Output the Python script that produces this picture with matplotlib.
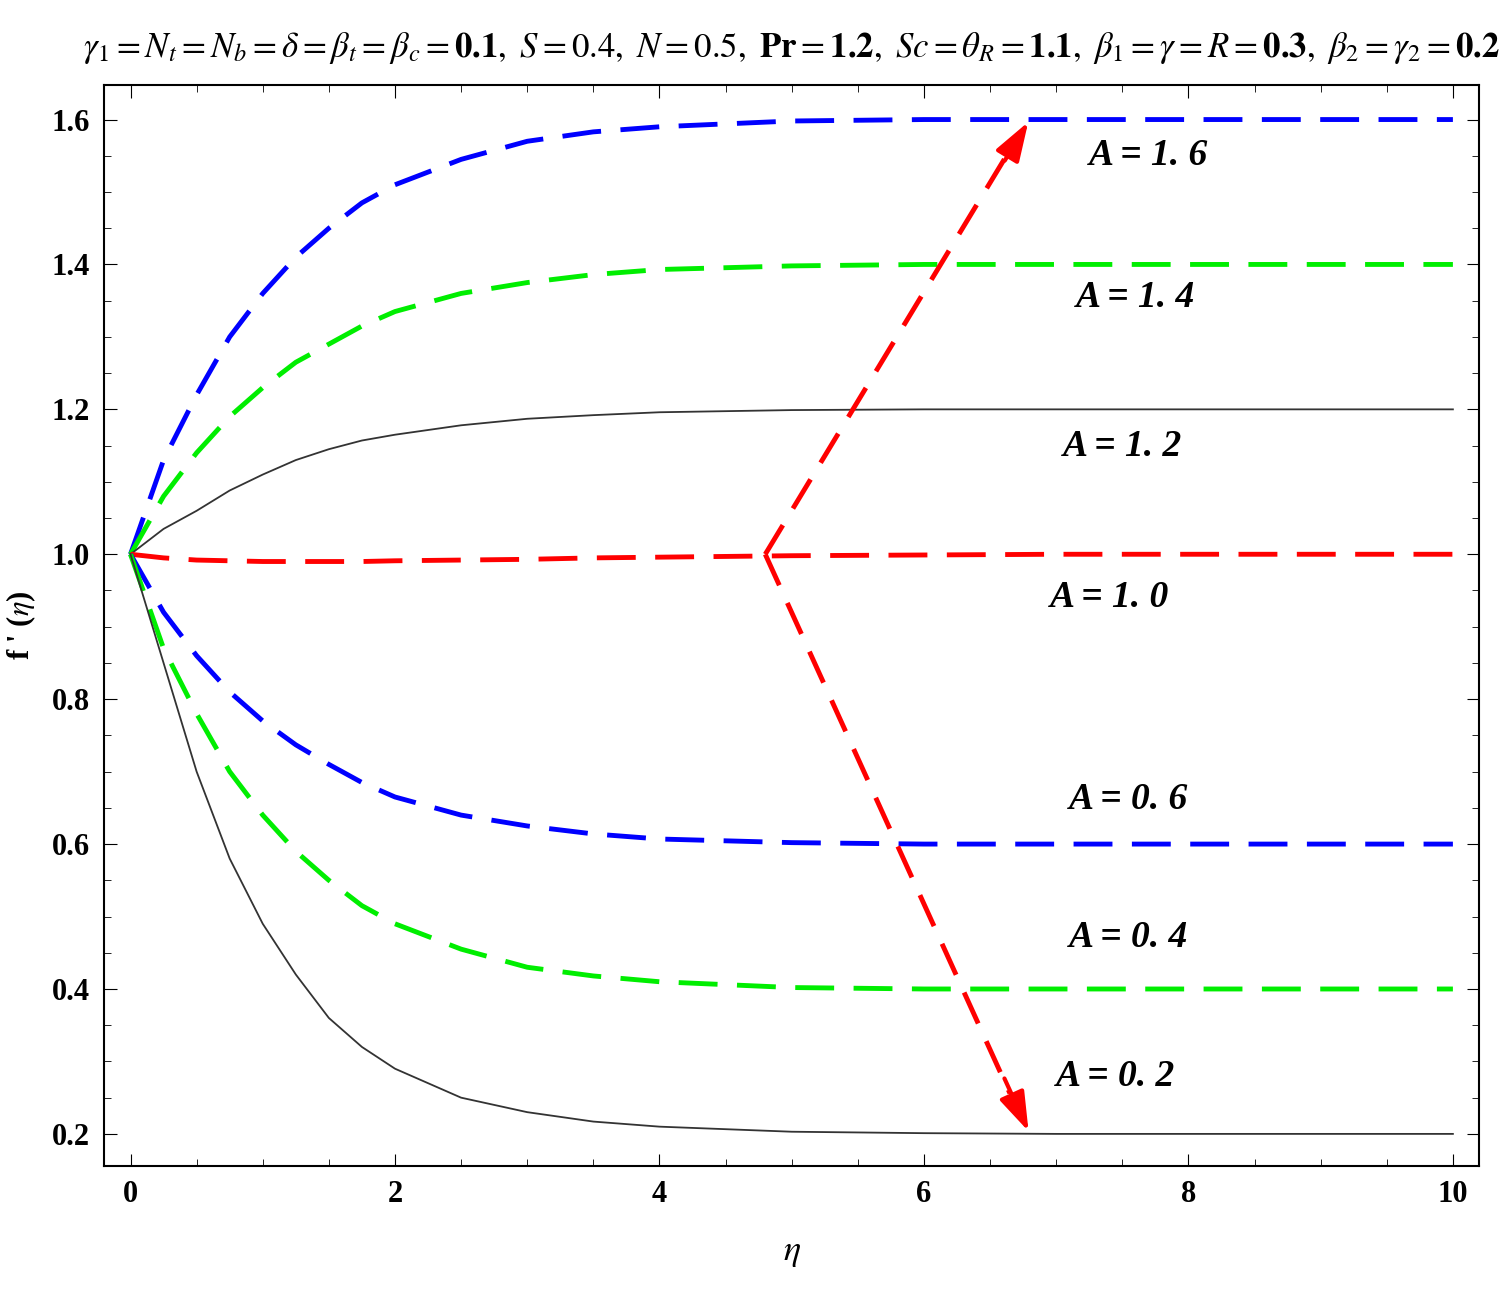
import matplotlib.pyplot as plt
import numpy as np

plt.rcParams['mathtext.fontset'] = 'stix'
plt.rcParams['font.family'] = 'Liberation Serif'

# curve values
eta_a = [0, 0.25, 0.5, 0.75, 1, 1.25, 1.5, 1.75, 2, 2.5, 3, 3.5, 4, 5, 6, 7, 8, 10]
f_16 = [1.0, 1.13, 1.22, 1.30, 1.36, 1.41, 1.45, 1.485, 1.51, 1.545, 1.57, 1.583, 1.59, 1.598, 1.6, 1.6, 1.6, 1.6]
f_14 = [1.0, 1.08, 1.14, 1.19, 1.23, 1.265, 1.29, 1.315, 1.335, 1.36, 1.375, 1.386, 1.393, 1.398, 1.4, 1.4, 1.4, 1.4]
f_12 = [1.0, 1.035, 1.06, 1.088, 1.11, 1.13, 1.145, 1.157, 1.165, 1.178, 1.187, 1.192, 1.196, 1.199, 1.2, 1.2, 1.2, 1.2]
f_10 = [1.0, 0.995, 0.992, 0.991, 0.99, 0.99, 0.99, 0.99, 0.991, 0.992, 0.993, 0.995, 0.996, 0.998, 0.999, 1.0, 1.0, 1.0]
f_06 = [1.0, 0.92, 0.86, 0.81, 0.77, 0.737, 0.71, 0.685, 0.665, 0.64, 0.625, 0.614, 0.607, 0.602, 0.6, 0.6, 0.6, 0.6]
f_04 = [1.0, 0.87, 0.78, 0.70, 0.64, 0.59, 0.55, 0.515, 0.49, 0.455, 0.43, 0.418, 0.41, 0.402, 0.4, 0.4, 0.4, 0.4]
f_02 = [1.0, 0.85, 0.70, 0.58, 0.49, 0.42, 0.36, 0.32, 0.29, 0.25, 0.23, 0.217, 0.21, 0.203, 0.201, 0.2, 0.2, 0.2]

labels = ['A = 1. 6', 'A = 1. 4', 'A = 1. 2', 'A = 1. 0', 'A = 0. 6', 'A = 0. 4', 'A = 0. 2']
label_x = [7.7, 7.6, 7.5, 7.4, 7.55, 7.55, 7.45]
label_y = [1.55, 1.354, 1.149, 0.94, 0.661, 0.471, 0.279]

fig = plt.figure(figsize=(15.08, 13.04), dpi=100)
ax = fig.add_axes([0.069, 0.106, 0.912, 0.829])

dash = (0, (8, 4))
ax.plot(eta_a, f_16, color='blue', lw=3.5, ls=dash)
ax.plot(eta_a, f_14, color='#00ee00', lw=3.5, ls=dash)
ax.plot(eta_a, f_12, color='#333333', lw=1.3)
ax.plot(eta_a, f_10, color='red', lw=3.5, ls=dash)
ax.plot(eta_a, f_06, color='blue', lw=3.5, ls=dash)
ax.plot(eta_a, f_04, color='#00ee00', lw=3.5, ls=dash)
ax.plot(eta_a, f_02, color='#333333', lw=1.3)

# red trend arrows
for yend in [1.6, 0.2]:
    ys = 1.0 + (yend - 1.0) * 0.93
    ax.plot([4.8, 6.65], [1.0, ys], color='red', lw=3.5, ls=(0, (7, 4)))
    ax.annotate('', xy=(6.8, yend), xytext=(6.6, 1.0 + (yend - 1.0) * 0.9),
                arrowprops=dict(arrowstyle='-|>,head_length=2.4,head_width=0.8',
                                color='red', lw=3))

for t, x, y in zip(labels, label_x, label_y):
    ax.text(x, y, t, fontsize=27, fontweight='bold', style='italic',
            ha='center', va='center')

ax.set_xlim(-0.2, 10.2)
ax.set_ylim(0.156, 1.648)
ax.set_xticks([0, 2, 4, 6, 8, 10])
ax.set_xticks(np.arange(0, 10.01, 0.5), minor=True)
ax.set_yticks([0.2, 0.4, 0.6, 0.8, 1.0, 1.2, 1.4, 1.6])
ax.set_yticks(np.arange(0.2, 1.61, 0.05), minor=True)
ax.tick_params(which='both', direction='in', top=True, right=True)
ax.tick_params(which='major', length=9, labelsize=22, pad=10)
ax.tick_params(which='minor', length=5)
for lab in ax.get_xticklabels() + ax.get_yticklabels():
    lab.set_fontweight('bold')
ax.yaxis.set_major_formatter(plt.FormatStrFormatter('%.1f'))
for s in ax.spines.values():
    s.set_linewidth(1.5)

ax.set_xlabel(r'$\eta$', fontsize=26, labelpad=20)
ax.set_ylabel("f ' ($\\eta$)", fontsize=22, fontweight='bold', labelpad=10)
ax.set_title(r'$\gamma_1=N_t=N_b=\delta=\beta_t=\beta_c=\mathbf{0.1},\ S=0.4,\ N=0.5,\ \mathbf{Pr}=\mathbf{1.2},\ Sc=\theta_R=\mathbf{1.1},\ \beta_1=\gamma=R=\mathbf{0.3},\ \beta_2=\gamma_2=\mathbf{0.2}$',
             fontsize=25, pad=20)

fig.savefig('out.png', dpi=100)
